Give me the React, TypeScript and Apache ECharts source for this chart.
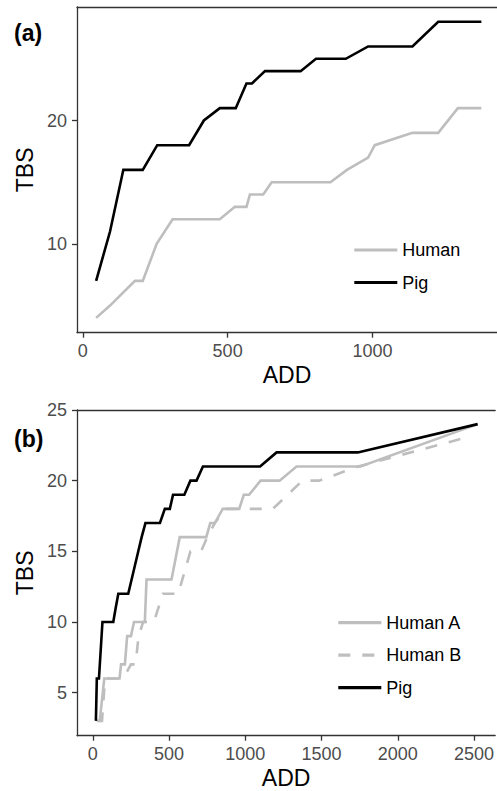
import React, { useEffect, useRef } from "react";
import * as echarts from "echarts";

// Panel (a)
const aHumanADD = [46, 94, 180, 207, 255, 310, 473, 525, 565, 577, 623, 652, 855, 912, 985, 1008, 1138, 1227, 1295, 1376];
const aHumanTBS = [4, 5, 7, 7, 10, 12, 12, 13, 13, 14, 14, 15, 15, 16, 17, 18, 19, 19, 21, 21];
const aPigADD = [46, 94, 140, 207, 257, 367, 418, 473, 528, 565, 584, 629, 752, 805, 908, 985, 1138, 1227, 1376];
const aPigTBS = [7, 11, 16, 16, 18, 18, 20, 21, 21, 23, 23, 24, 24, 25, 25, 26, 26, 28, 28];
const aXTicks = [0, 500, 1000];
const aYTicks = [10, 20];

// Panel (b)
const bHumanAADD = [26, 45, 75, 175, 185, 210, 225, 250, 270, 341, 352, 516, 570, 744, 770, 800, 852, 960, 990, 1025, 1100, 1225, 1336, 1756, 2524];
const bHumanATBS = [3, 3, 6, 6, 7, 7, 9, 9, 10, 10, 13, 13, 16, 16, 17, 17, 18, 18, 19, 19, 20, 20, 21, 21, 24];
const bHumanBADD = [37, 60, 80, 200, 250, 280, 300, 330, 400, 460, 560, 640, 710, 750, 800, 870, 1180, 1375, 1484, 1740, 2430];
const bHumanBTBS = [3, 3, 6, 6, 7, 7, 9, 10, 10, 12, 12, 15, 15, 16, 17, 18, 18, 20, 20, 21, 23];
const bPigADD = [20, 26, 40, 63, 134, 150, 167, 232, 298, 320, 345, 440, 472, 505, 526, 600, 640, 680, 722, 1097, 1205, 1738, 2524];
const bPigTBS = [3, 6, 6, 10, 10, 11, 12, 12, 15, 16, 17, 17, 18, 18, 19, 19, 20, 20, 21, 21, 22, 22, 24];
const bXTicks = [0, 500, 1000, 1500, 2000, 2500];
const bYTicks = [5, 10, 15, 20, 25];

const FONT = "Liberation Sans, Arial, Helvetica, sans-serif";
const GREY = "#bebebe";
const AXIS = "#333333";

const zip = (xs: number[], ys: number[]) => xs.map((x, i) => [x, ys[i]]);

export default function App() {
  const ref = useRef<HTMLDivElement>(null);
  useEffect(() => {
    const chart = echarts.init(ref.current!, null, { renderer: "svg" });

    const fmt = (v: number) => String(v);

    const xAxisBase = (grid: number, min: number, max: number, ticks: number[]) => ({
      type: "value",
      gridIndex: grid,
      min,
      max,
      name: "ADD",
      nameLocation: "middle",
      nameGap: 31,
      nameTextStyle: { fontSize: 23, color: "#000", fontFamily: FONT },
      axisLine: { show: true, onZero: false, lineStyle: { color: AXIS, width: 1.3 } },
      axisTick: { show: true, length: 5, customValues: ticks, lineStyle: { color: AXIS, width: 1.3 } },
      axisLabel: { customValues: ticks, formatter: fmt, fontSize: 18, color: "#4d4d4d", margin: 9, fontFamily: FONT },
      splitLine: { show: false },
    });
    const topAxis = (grid: number, min: number, max: number) => ({
      type: "value",
      gridIndex: grid,
      position: "top",
      min,
      max,
      axisLine: { show: true, onZero: false, lineStyle: { color: AXIS, width: 1.3 } },
      axisTick: { show: false },
      axisLabel: { show: false },
      splitLine: { show: false },
    });
    const yAxisBase = (grid: number, min: number, max: number, ticks: number[]) => ({
      type: "value",
      gridIndex: grid,
      min,
      max,
      name: "TBS",
      nameLocation: "middle",
      nameGap: 36,
      nameRotate: 90,
      nameTextStyle: { fontSize: 23, color: "#000", fontFamily: FONT },
      axisLine: { show: true, onZero: false, lineStyle: { color: AXIS, width: 1.3 } },
      axisTick: { show: true, length: 5, customValues: ticks, lineStyle: { color: AXIS, width: 1.3 } },
      axisLabel: { customValues: ticks, formatter: fmt, fontSize: 18, color: "#4d4d4d", margin: 10, fontFamily: FONT },
      splitLine: { show: false },
    });

    const line = (name: string, xi: number, yi: number, data: number[][], color: string, dashed = false) => ({
      type: "line",
      name,
      xAxisIndex: xi,
      yAxisIndex: yi,
      data,
      symbol: "none",
      showSymbol: false,
      color,
      itemStyle: { color },
      lineStyle: { color, width: 2.6, type: dashed ? [12, 12] : "solid", cap: "butt", join: "miter" },
      z: color === "#000000" ? 3 : 2,
    });

    const legendBase = {
      orient: "vertical",
      itemWidth: 43,
      itemHeight: 18,
      itemGap: 14.5,
      itemStyle: { color: "rgba(0,0,0,0)", borderWidth: 0, opacity: 0 },
      lineStyle: { width: 3.2 },
      textStyle: { fontSize: 18, color: "#000", fontFamily: FONT },
      selectedMode: false,
      padding: 0,
    };

    const option = {
      animation: false,
      backgroundColor: "#ffffff",
      textStyle: { fontFamily: FONT },
      grid: [
        { left: 77, top: 7, width: 420, height: 325.7 },
        { left: 77, top: 410, width: 420, height: 325.7 },
      ],
      xAxis: [
        xAxisBase(0, -20, 1430, aXTicks),
        xAxisBase(1, -104, 2639, bXTicks),
        topAxis(0, -20, 1430),
        topAxis(1, -104, 2639),
      ],
      yAxis: [
        yAxisBase(0, 2.8, 29.2, aYTicks),
        yAxisBase(1, 1.95, 25, bYTicks),
      ],
      legend: [
        { ...legendBase, left: 352.7, top: 241, data: ["Human", "Pig"] },
        { ...legendBase, left: 336.7, top: 613.7, data: ["Human A", "Human B", "Pig"] },
      ],
      series: [
        line("Human", 0, 0, zip(aHumanADD, aHumanTBS), GREY),
        line("Pig", 0, 0, zip(aPigADD, aPigTBS), "#000000"),
        line("Human A", 1, 1, zip(bHumanAADD, bHumanATBS), GREY),
        line("Human B", 1, 1, zip(bHumanBADD, bHumanBTBS), GREY, true),
        line("Pig", 1, 1, zip(bPigADD, bPigTBS), "#000000"),
      ],
      graphic: [
        { type: "text", left: 14, top: 21, style: { text: "(a)", fontSize: 23, fontWeight: "bold", fill: "#000", fontFamily: FONT } },
        { type: "text", left: 14, top: 427, style: { text: "(b)", fontSize: 23, fontWeight: "bold", fill: "#000", fontFamily: FONT } },
      ],
    };

    chart.setOption(option as any);
    return () => chart.dispose();
  }, []);

  return (
    <div
      ref={ref}
      style={{ position: "fixed", left: 0, top: 0, width: 497, height: 791, background: "#fff" }}
    />
  );
}
